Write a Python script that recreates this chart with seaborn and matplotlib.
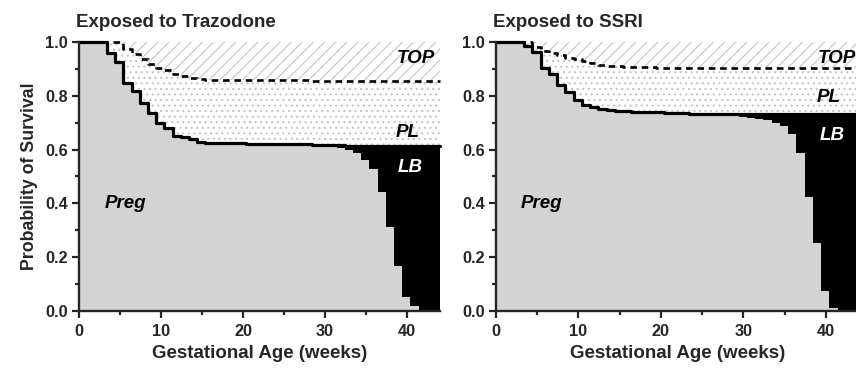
import matplotlib
matplotlib.use('Agg')
import matplotlib.pyplot as plt
from matplotlib.ticker import MultipleLocator
import seaborn as sns


# step times (weeks), shared by both panels
weeks = [0, 3.4, 4.4, 5.4, 6.4, 7.4, 8.4, 9.4, 10.4, 11.4, 12.4, 13.4, 14.4,
         15.4, 16.4, 17.4, 18.4, 19.4, 20.4, 21.4, 22.4, 23.4, 24.4, 25.4,
         26.4, 27.4, 28.4, 29.4, 30.4, 31.4, 32.4, 33.4, 34.4, 35.4, 36.4,
         37.4, 38.4, 39.4, 40.4, 41.4]

# Trazodone
traz_nottop = [1.0, 1.0, 1.0, 0.975, 0.955, 0.935, 0.920, 0.905, 0.895, 0.882,
               0.875, 0.867, 0.861, 0.860, 0.860, 0.860, 0.859, 0.859, 0.858,
               0.858, 0.858, 0.858, 0.857, 0.857, 0.857, 0.857, 0.856, 0.856,
               0.856, 0.856, 0.856, 0.856, 0.856, 0.856, 0.856, 0.856, 0.856,
               0.856, 0.856, 0.856]
traz_alive = [1.0, 0.958, 0.927, 0.846, 0.818, 0.774, 0.735, 0.698, 0.681, 0.652,
              0.645, 0.638, 0.630, 0.626, 0.625, 0.625, 0.625, 0.624, 0.622,
              0.622, 0.622, 0.622, 0.622, 0.621, 0.620, 0.619, 0.618, 0.617,
              0.616, 0.616, 0.615, 0.615, 0.615, 0.614, 0.614, 0.613, 0.613,
              0.613, 0.612, 0.612]
traz_preg = [1.0, 0.958, 0.927, 0.846, 0.818, 0.774, 0.735, 0.698, 0.681, 0.652,
             0.645, 0.638, 0.630, 0.626, 0.625, 0.625, 0.625, 0.624, 0.622,
             0.622, 0.622, 0.622, 0.622, 0.621, 0.620, 0.619, 0.618, 0.615,
             0.611, 0.605, 0.597, 0.587, 0.561, 0.527, 0.441, 0.311, 0.167,
             0.053, 0.020, 0.0]

# SSRI
ssri_nottop = [1.0, 1.0, 0.980, 0.965, 0.958, 0.950, 0.942, 0.935, 0.928, 0.922,
               0.916, 0.912, 0.910, 0.908, 0.907, 0.906, 0.906, 0.905, 0.905,
               0.905, 0.905, 0.905, 0.904, 0.904, 0.904, 0.904, 0.904, 0.904,
               0.904, 0.904, 0.903, 0.903, 0.903, 0.903, 0.903, 0.903, 0.903,
               0.903, 0.903, 0.903]
ssri_alive = [1.0, 0.985, 0.964, 0.904, 0.880, 0.840, 0.815, 0.784, 0.766, 0.758,
              0.752, 0.748, 0.745, 0.742, 0.741, 0.740, 0.739, 0.738, 0.737,
              0.736, 0.735, 0.734, 0.734, 0.733, 0.733, 0.733, 0.733, 0.732,
              0.732, 0.732, 0.732, 0.732, 0.732, 0.732, 0.732, 0.732, 0.732,
              0.732, 0.732, 0.732]
ssri_preg = [1.0, 0.985, 0.964, 0.904, 0.880, 0.840, 0.815, 0.784, 0.766, 0.758,
             0.752, 0.748, 0.745, 0.742, 0.741, 0.740, 0.739, 0.738, 0.737,
             0.736, 0.735, 0.734, 0.734, 0.730, 0.728, 0.726, 0.724, 0.721,
             0.718, 0.715, 0.710, 0.698, 0.688, 0.658, 0.586, 0.423, 0.252,
             0.076, 0.010, 0.0]

titles = ['Exposed to Trazodone', 'Exposed to SSRI']
x_max = 44

sns.set_style('ticks')
plt.rcParams['font.family'] = ['Liberation Sans', 'DejaVu Sans']
plt.rcParams['font.weight'] = 'bold'
plt.rcParams['hatch.linewidth'] = 0.8

fig = plt.figure(figsize=(8.56, 3.7), dpi=100)
ax_l = fig.add_axes([79 / 856, 59 / 370, 361 / 856, 269 / 370])
ax_r = fig.add_axes([496 / 856, 59 / 370, 363 / 856, 269 / 370])

panels = [
    (ax_l, traz_nottop, traz_alive, traz_preg,
     {'TOP': (41.0, 0.937), 'PL': (40.1, 0.665), 'LB': (40.4, 0.535), 'Preg': (5.7, 0.40)}),
    (ax_r, ssri_nottop, ssri_alive, ssri_preg,
     {'TOP': (41.3, 0.94), 'PL': (40.3, 0.794), 'LB': (40.7, 0.654), 'Preg': (5.5, 0.40)}),
]

hatch_grey = '#c4c4c4'
x = weeks + [x_max]

for i, (ax, nottop, alive, preg, labels) in enumerate(panels):
    nt = nottop + [nottop[-1]]
    al = alive + [alive[-1]]
    pr = preg + [preg[-1]]

    ax.fill_between(x, nt, 1.0, step='post', facecolor='white',
                    edgecolor=hatch_grey, hatch='///', linewidth=0)
    ax.fill_between(x, al, nt, step='post', facecolor='white',
                    edgecolor=hatch_grey, hatch='...', linewidth=0)
    ax.fill_between(x, pr, al, step='post', color='black', linewidth=0)
    ax.fill_between(x, 0, pr, step='post', color='#d3d3d3', linewidth=0)

    sns.lineplot(x=x, y=nt, ax=ax, color='black', linewidth=1.9,
                 drawstyle='steps-post', linestyle=(0, (2.5, 1.8)), clip_on=False)
    sns.lineplot(x=x, y=al, ax=ax, color='black', linewidth=2.3,
                 drawstyle='steps-post', clip_on=False)

    for name, (tx, ty) in labels.items():
        ax.text(tx, ty, name, ha='center', va='center', fontsize=13.5,
                fontweight='bold', fontstyle='italic',
                color='white' if name == 'LB' else 'black')

    ax.set_xlim(0, x_max)
    ax.set_ylim(0, 1.0)
    ax.xaxis.set_major_locator(MultipleLocator(10))
    ax.xaxis.set_minor_locator(MultipleLocator(5))
    ax.yaxis.set_major_locator(MultipleLocator(0.2))
    ax.yaxis.set_minor_locator(MultipleLocator(0.1))
    ax.yaxis.set_major_formatter(plt.FormatStrFormatter('%.1f'))
    ax.tick_params(which='major', length=5, width=1.6, labelsize=11.7, pad=3)
    ax.tick_params(axis='x', which='major', pad=4)
    ax.tick_params(which='minor', length=3, width=1.6)
    for s in ['left', 'bottom']:
        ax.spines[s].set_linewidth(1.7)
    sns.despine(ax=ax)
    ax.set_xlabel('Gestational Age (weeks)', fontsize=13.5, fontweight='bold', labelpad=5)
    ax.set_title(titles[i], loc='left', x=-0.008, pad=11, fontsize=13.5, fontweight='bold')

ax_l.set_ylabel('Probability of Survival', fontsize=12.8, fontweight='bold', labelpad=5)
ax_r.set_ylabel('')

fig.savefig('out.png', dpi=100)
